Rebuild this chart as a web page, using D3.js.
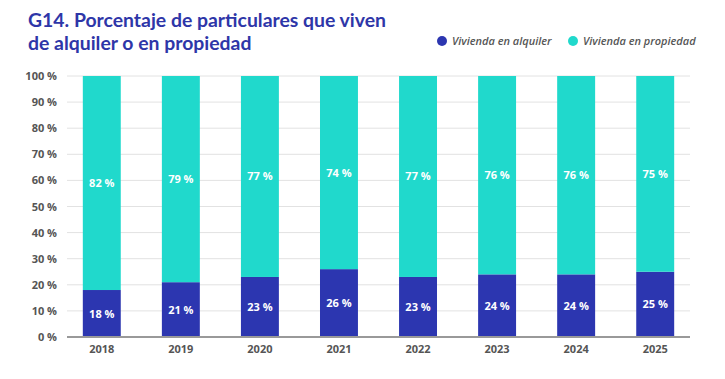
<!DOCTYPE html>
<html>
<head>
<meta charset="utf-8">
<script src="https://cdn.jsdelivr.net/npm/d3@7"></script>
<style>
body { margin: 0; background: #fff; }
svg { display: block; font-family: "Open Sans", sans-serif; }
</style>
</head>
<body>
<svg id="chart" width="725" height="379"></svg>
<script>
/* data */
var years = ["2018", "2019", "2020", "2021", "2022", "2023", "2024", "2025"];
var alquiler = [18, 21, 23, 26, 23, 24, 24, 25];
var propiedad = [82, 79, 77, 74, 77, 76, 76, 75];
var yTicks = [0, 10, 20, 30, 40, 50, 60, 70, 80, 90, 100];
var seriesNames = ["Vivienda en alquiler", "Vivienda en propiedad"];
var colors = ["#2c36b0", "#20d9cc"];

var svg = d3.select("#chart");

var x = d3.scaleBand().domain(years).range([67, 690])
	.paddingInner(0.52).paddingOuter(0.2);
var y = d3.scaleLinear().domain([0, 100]).range([337, 76]);

/* title */
var title = svg.append("text")
	.attr("x", 28).attr("y", 27)
	.attr("fill", "#2e36a8")
	.attr("style", "font-size: 19.4px; font-weight: 700; font-family: Lato, sans-serif");
title.append("tspan").attr("x", 28).attr("dy", 0).text("G14. Porcentaje de particulares que viven");
title.append("tspan").attr("x", 28).attr("dy", 23).text("de alquiler o en propiedad");

/* legend */
var legX = [442, 573];
for (var i = 0; i < 2; i += 1){
	svg.append("circle")
		.attr("cx", legX[i]).attr("cy", 41).attr("r", 5)
		.attr("fill", colors[i]);
	svg.append("text")
		.attr("x", legX[i] + 10).attr("y", 45)
		.attr("fill", "#555")
		.attr("style", "font-size: 11px; font-style: italic; font-weight: 600")
		.text(seriesNames[i]);
}

/* grid + y labels */
svg.append("g").selectAll("line").data(yTicks.slice(1)).enter().append("line")
	.attr("x1", 67).attr("x2", 690)
	.attr("y1", function(d){ return y(d); })
	.attr("y2", function(d){ return y(d); })
	.attr("stroke", "#e2e2e2").attr("stroke-width", 1);

svg.append("g").selectAll("text").data(yTicks).enter().append("text")
	.attr("x", 57)
	.attr("y", function(d){ return y(d) + 4; })
	.attr("text-anchor", "end")
	.attr("fill", "#555")
	.attr("style", "font-size: 11px; font-weight: 700")
	.text(function(d){ return d + " %"; });

/* bars */
var g = svg.append("g");
years.forEach(function(yr, i){
	var x0 = x(yr), bw = x.bandwidth();
	g.append("rect")
		.attr("x", x0).attr("width", bw)
		.attr("y", y(alquiler[i])).attr("height", y(0) - y(alquiler[i]))
		.attr("fill", colors[0]);
	g.append("rect")
		.attr("x", x0).attr("width", bw)
		.attr("y", y(100)).attr("height", y(alquiler[i]) - y(100))
		.attr("fill", colors[1]);
	g.append("text")
		.attr("x", x0 + bw/2).attr("y", y(alquiler[i]/2) + 4)
		.attr("text-anchor", "middle").attr("fill", "#fff")
		.attr("style", "font-size: 11px; font-weight: 700")
		.text(alquiler[i] + " %");
	g.append("text")
		.attr("x", x0 + bw/2).attr("y", y(alquiler[i] + propiedad[i]/2) + 4)
		.attr("text-anchor", "middle").attr("fill", "#fff")
		.attr("style", "font-size: 11px; font-weight: 700")
		.text(propiedad[i] + " %");
	g.append("text")
		.attr("x", x0 + bw/2).attr("y", 353)
		.attr("text-anchor", "middle").attr("fill", "#555")
		.attr("style", "font-size: 11px; font-weight: 700")
		.text(yr);
});

/* baseline */
svg.append("line")
	.attr("x1", 67).attr("x2", 690)
	.attr("y1", y(0)).attr("y2", y(0))
	.attr("stroke", "#999").attr("stroke-width", 2);
</script>
</body>
</html>
